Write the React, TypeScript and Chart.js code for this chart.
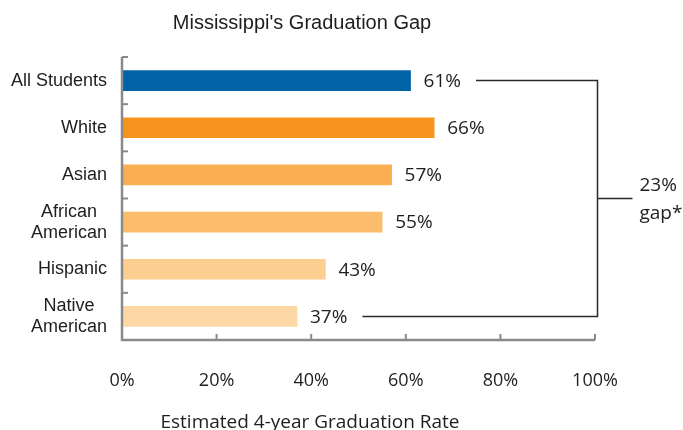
import React, { useEffect, useRef } from "react";
import { Chart, registerables } from "chart.js";

Chart.register(...registerables);

const title = "Mississippi's Graduation Gap";
const axisTitle = "Estimated 4-year Graduation Rate";
const categories: string[][] = [
  ["All Students"],
  ["White"],
  ["Asian"],
  ["African", "American"],
  ["Hispanic"],
  ["Native", "American"],
];
const rates = [61, 66, 57, 55, 43, 37];
const barColors = ["#0063a8", "#f7941e", "#f9ae52", "#fbbc6c", "#fccf90", "#fdd8a4"];
const xTicks = [0, 20, 40, 60, 80, 100];
const gapLines = ["23%", "gap*"];

const AXIS_COLOR = "#8a8a8a";
const TEXT_COLOR = "#1e1e1e";
const SANS = "'Liberation Sans', Arial, sans-serif";
const LABEL_FONT = "'Open Sans', 'Noto Sans', sans-serif";

const customDraw = {
  id: "customDraw",
  afterDatasetsDraw(chart: any) {
    const ctx = chart.ctx as CanvasRenderingContext2D;
    const xs = chart.scales.x;
    const ys = chart.scales.y;
    const area = chart.chartArea;
    ctx.save();

    // axes
    ctx.strokeStyle = AXIS_COLOR;
    ctx.lineWidth = 2.5;
    ctx.beginPath();
    ctx.moveTo(area.left, area.top);
    ctx.lineTo(area.left, area.bottom);
    ctx.lineTo(area.right, area.bottom);
    ctx.stroke();
    // x tick marks (inward)
    ctx.lineWidth = 2;
    xTicks.forEach((v) => {
      const x = xs.getPixelForValue(v);
      ctx.beginPath();
      ctx.moveTo(x, area.bottom);
      ctx.lineTo(x, area.bottom - 6);
      ctx.stroke();
    });
    // y tick marks between categories (inward)
    for (let i = 0; i <= categories.length; i++) {
      const y =
        i === 0
          ? area.top
          : i === categories.length
          ? area.bottom
          : (ys.getPixelForValue(i - 1) + ys.getPixelForValue(i)) / 2;
      ctx.beginPath();
      ctx.moveTo(area.left, y);
      ctx.lineTo(area.left + 6, y);
      ctx.stroke();
    }

    // category labels
    ctx.fillStyle = TEXT_COLOR;
    ctx.font = `18px ${SANS}`;
    ctx.textBaseline = "middle";
    ctx.textAlign = "center";
    const lh = 21;
    categories.forEach((lines, i) => {
      const yc = ys.getPixelForValue(i);
      const maxW = Math.max(...lines.map((l) => ctx.measureText(l).width));
      const cx = area.left - 15 - maxW / 2;
      lines.forEach((l, k) => {
        ctx.fillText(l, cx, yc + (k - (lines.length - 1) / 2) * lh);
      });
    });

    // value labels
    ctx.font = `19px ${LABEL_FONT}`;
    ctx.textAlign = "left";
    const labelEnds: number[] = [];
    rates.forEach((v, i) => {
      const x = xs.getPixelForValue(v) + 13;
      const y = ys.getPixelForValue(i) + 1;
      const t = `${v}%`;
      ctx.fillText(t, x, y);
      labelEnds.push(x + ctx.measureText(t).width);
    });

    // bracket
    const bx = area.right + 2.5;
    const yTop = ys.getPixelForValue(0);
    const yBot = ys.getPixelForValue(rates.length - 1);
    const yMid = (yTop + yBot) / 2;
    ctx.strokeStyle = "#2a2a2a";
    ctx.lineWidth = 1.5;
    ctx.beginPath();
    ctx.moveTo(labelEnds[0] + 15, yTop);
    ctx.lineTo(bx, yTop);
    ctx.lineTo(bx, yBot);
    ctx.lineTo(labelEnds[rates.length - 1] + 15, yBot);
    ctx.moveTo(bx, yMid);
    ctx.lineTo(bx + 35, yMid);
    ctx.stroke();
    ctx.font = `19px ${LABEL_FONT}`;
    ctx.fillText(gapLines[0], bx + 42, yMid - 13);
    ctx.fillText(gapLines[1], bx + 42, yMid + 15);

    // titles
    ctx.textAlign = "center";
    ctx.font = `20px ${SANS}`;
    ctx.fillText(title, 302, 23);
    ctx.font = `19px ${LABEL_FONT}`;
    ctx.fillText(axisTitle, 310, 423);

    ctx.restore();
  },
};

export default function App() {
  const ref = useRef<HTMLCanvasElement | null>(null);
  useEffect(() => {
    if (!ref.current) return;
    const chart = new Chart(ref.current, {
      type: "bar",
      data: {
        labels: categories.map((c) => c.join(" ")),
        datasets: [
          {
            data: rates,
            backgroundColor: barColors,
            barThickness: 20,
            borderWidth: 0,
          },
        ],
      },
      options: {
        indexAxis: "y",
        responsive: false,
        animation: false,
        layout: { padding: { top: 57, right: 88, left: 0, bottom: 0 } },
        plugins: { legend: { display: false }, tooltip: { enabled: false } },
        scales: {
          x: {
            min: 0,
            max: 100,
            grid: { display: false, drawTicks: false },
            border: { display: false },
            ticks: {
              stepSize: 20,
              padding: 30,
              color: TEXT_COLOR,
              font: { family: LABEL_FONT, size: 18 },
              callback: (v: any) => `${v}%`,
            },
            afterFit: (s: any) => {
              s.height = 90;
            },
          },
          y: {
            grid: { display: false, drawTicks: false },
            border: { display: false },
            ticks: { display: false },
            afterFit: (s: any) => {
              s.width = 122;
            },
          },
        },
      },
      plugins: [customDraw],
    });
    return () => chart.destroy();
  }, []);
  return (
    <div style={{ position: "absolute", left: 0, top: 0, width: 683, height: 430, background: "#fff" }}>
      <canvas ref={ref} width={683} height={430} style={{ display: "block" }} />
    </div>
  );
}
